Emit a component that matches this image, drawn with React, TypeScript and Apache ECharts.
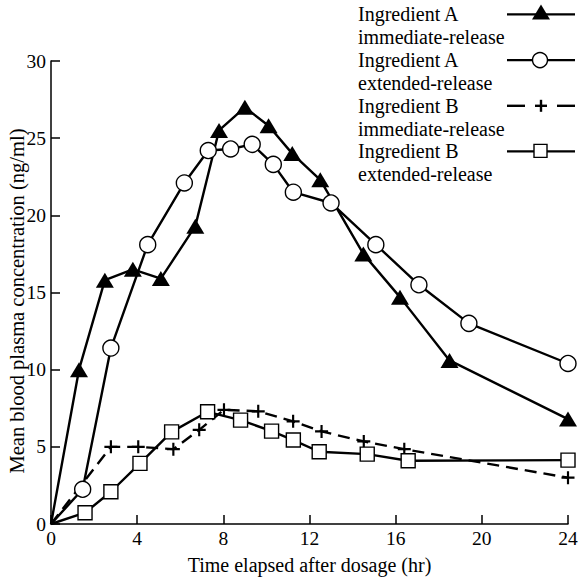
import React, { useEffect, useRef } from "react";
import * as echarts from "echarts";

// ---- data ----
const seriesTitles = ["Ingredient A", "Ingredient A", "Ingredient B", "Ingredient B"];
const seriesSubtitles = ["immediate-release", "extended-release", "immediate-release", "extended-release"];

const xAxisTitle = "Time elapsed after dosage (hr)";
const yAxisTitle = "Mean blood plasma concentration (ng/ml)";

const xTicks = [0, 4, 8, 12, 16, 20, 24];
const yTicks = [0, 5, 10, 15, 20, 25, 30];

const aIrTime = [0, 1.3, 2.5, 3.8, 5.1, 6.7, 7.8, 9.0, 10.1, 11.2, 12.5, 14.5, 16.2, 18.5, 24];
const aIrConc = [0, 10.0, 15.8, 16.5, 15.9, 19.3, 25.5, 27.0, 25.8, 24.0, 22.3, 17.5, 14.7, 10.6, 6.8];

const aErTime = [0, 1.47, 2.78, 4.49, 6.19, 7.3, 8.34, 9.34, 10.32, 11.25, 13.0, 15.08, 17.08, 19.4, 24];
const aErConc = [0, 2.25, 11.4, 18.1, 22.1, 24.2, 24.3, 24.6, 23.3, 21.5, 20.8, 18.1, 15.5, 13.0, 10.4];

const bIrTime = [0, 2.78, 4.05, 5.68, 6.88, 8.03, 9.62, 11.24, 12.56, 14.52, 16.4, 24];
const bIrConc = [0, 5.0, 5.0, 4.85, 6.1, 7.4, 7.3, 6.65, 6.0, 5.35, 4.85, 3.0];

const bErTime = [0, 1.58, 2.78, 4.13, 5.6, 7.27, 8.8, 10.24, 11.25, 12.45, 14.68, 16.58, 24];
const bErConc = [0, 0.73, 2.09, 3.93, 5.97, 7.27, 6.73, 6.02, 5.44, 4.68, 4.53, 4.1, 4.14];

const FONT = "'Liberation Serif', 'Times New Roman', serif";
const PLUS = "path://M5,0H7V5H12V7H7V12H5V7H0V5H5Z";

function toData(xs: number[], ys: number[]) {
  return xs.map((x, i) =>
    i === 0 ? { value: [x, ys[i]], symbol: "none" } : { value: [x, ys[i]] }
  );
}

export default function App() {
  const ref = useRef<HTMLDivElement>(null);
  useEffect(() => {
    if (!ref.current) return;
    const chart = echarts.init(ref.current, null, { renderer: "svg" });

    const lineW = 2.4;
    const names = seriesTitles.map((t, i) => t + " " + seriesSubtitles[i]);

    // legend drawn as graphic (symbol aligned with first text line)
    const graphics: any[] = [];
    const itemTop = [3, 48.7, 94.4, 140];
    const lineH = 22.8;
    const symX = 541;
    seriesTitles.forEach((t, i) => {
      const cy = itemTop[i] + lineH / 2;
      graphics.push({
        type: "text",
        left: 358,
        top: itemTop[i],
        style: {
          text: t + "\n" + seriesSubtitles[i],
          font: `20px ${FONT}`,
          fill: "#000",
          lineHeight: lineH,
        },
      });
      if (i === 2) {
        graphics.push({ type: "line", shape: { x1: 507, y1: cy, x2: 525, y2: cy }, style: { stroke: "#000", lineWidth: lineW } });
        graphics.push({ type: "line", shape: { x1: 557, y1: cy, x2: 575, y2: cy }, style: { stroke: "#000", lineWidth: lineW } });
        graphics.push({ type: "line", shape: { x1: symX - 6, y1: cy, x2: symX + 6, y2: cy }, style: { stroke: "#000", lineWidth: 2.4 } });
        graphics.push({ type: "line", shape: { x1: symX, y1: cy - 6, x2: symX, y2: cy + 6 }, style: { stroke: "#000", lineWidth: 2.4 } });
      } else {
        graphics.push({ type: "line", shape: { x1: 507, y1: cy, x2: 575, y2: cy }, style: { stroke: "#000", lineWidth: lineW } });
        if (i === 0) {
          graphics.push({
            type: "polygon",
            shape: { points: [[symX, cy - 10], [symX + 9, cy + 5], [symX - 9, cy + 5]] },
            style: { fill: "#000" },
          });
        } else if (i === 1) {
          graphics.push({ type: "circle", shape: { cx: symX - 1, cy, r: 7.5 }, style: { fill: "#fff", stroke: "#000", lineWidth: 1.4 } });
        } else {
          graphics.push({ type: "rect", shape: { x: symX - 7, y: cy - 7, width: 13, height: 13 }, style: { fill: "#fff", stroke: "#000", lineWidth: 1.4 } });
        }
      }
    });

    // y-axis title, rotated
    graphics.push({
      type: "text",
      x: 17,
      y: 301,
      rotation: Math.PI / 2,
      style: {
        text: yAxisTitle,
        font: `20.5px ${FONT}`,
        fill: "#000",
        align: "center",
        verticalAlign: "middle",
      },
    });

    chart.setOption({
      animation: false,
      backgroundColor: "#fff",
      textStyle: { fontFamily: FONT, color: "#000" },
      grid: { left: 51, right: 11, top: 61, bottom: 58, containLabel: false, outerBoundsMode: "none" },
      xAxis: {
        type: "value",
        min: xTicks[0],
        max: xTicks[xTicks.length - 1],
        interval: 4,
        name: xAxisTitle,
        nameLocation: "middle",
        nameGap: 31,
        nameTextStyle: { fontFamily: FONT, fontSize: 20, color: "#000" },
        axisLine: { lineStyle: { color: "#000", width: 1.5 } },
        axisTick: { inside: true, length: 9, lineStyle: { color: "#000", width: 1.5 } },
        axisLabel: { fontFamily: FONT, fontSize: 19.5, color: "#000", margin: 4 },
        splitLine: { show: false },
      },
      yAxis: {
        type: "value",
        min: yTicks[0],
        max: yTicks[yTicks.length - 1],
        interval: 5,
        axisLine: { lineStyle: { color: "#000", width: 1.5 } },
        axisTick: { inside: true, length: 9, lineStyle: { color: "#000", width: 1.5 } },
        axisLabel: { fontFamily: FONT, fontSize: 19.5, color: "#000", margin: 5 },
        splitLine: { show: false },
      },
      graphic: graphics,
      series: [
        {
          name: names[0],
          type: "line",
          data: toData(aIrTime, aIrConc),
          symbol: "triangle",
          symbolSize: [18, 15],
          showAllSymbol: true,
          lineStyle: { color: "#000", width: lineW },
          itemStyle: { color: "#000", borderWidth: 0 },
          z: 3,
        },
        {
          name: names[1],
          type: "line",
          data: toData(aErTime, aErConc),
          symbol: "circle",
          symbolSize: 16,
          showAllSymbol: true,
          lineStyle: { color: "#000", width: lineW },
          itemStyle: { color: "#fff", borderColor: "#000", borderWidth: 1.4 },
          z: 4,
        },
        {
          name: names[2],
          type: "line",
          data: toData(bIrTime, bIrConc),
          symbol: PLUS,
          symbolSize: 13,
          showAllSymbol: true,
          lineStyle: { color: "#000", width: lineW, type: [12, 7] },
          itemStyle: { color: "#000", borderWidth: 0 },
          z: 3,
        },
        {
          name: names[3],
          type: "line",
          data: toData(bErTime, bErConc),
          symbol: "rect",
          symbolSize: 14,
          showAllSymbol: true,
          lineStyle: { color: "#000", width: lineW },
          itemStyle: { color: "#fff", borderColor: "#000", borderWidth: 1.4 },
          z: 4,
        },
      ],
    });
    return () => chart.dispose();
  }, []);

  return <div ref={ref} style={{ width: 579, height: 582, position: "absolute", left: 0, top: 0 }} />;
}
